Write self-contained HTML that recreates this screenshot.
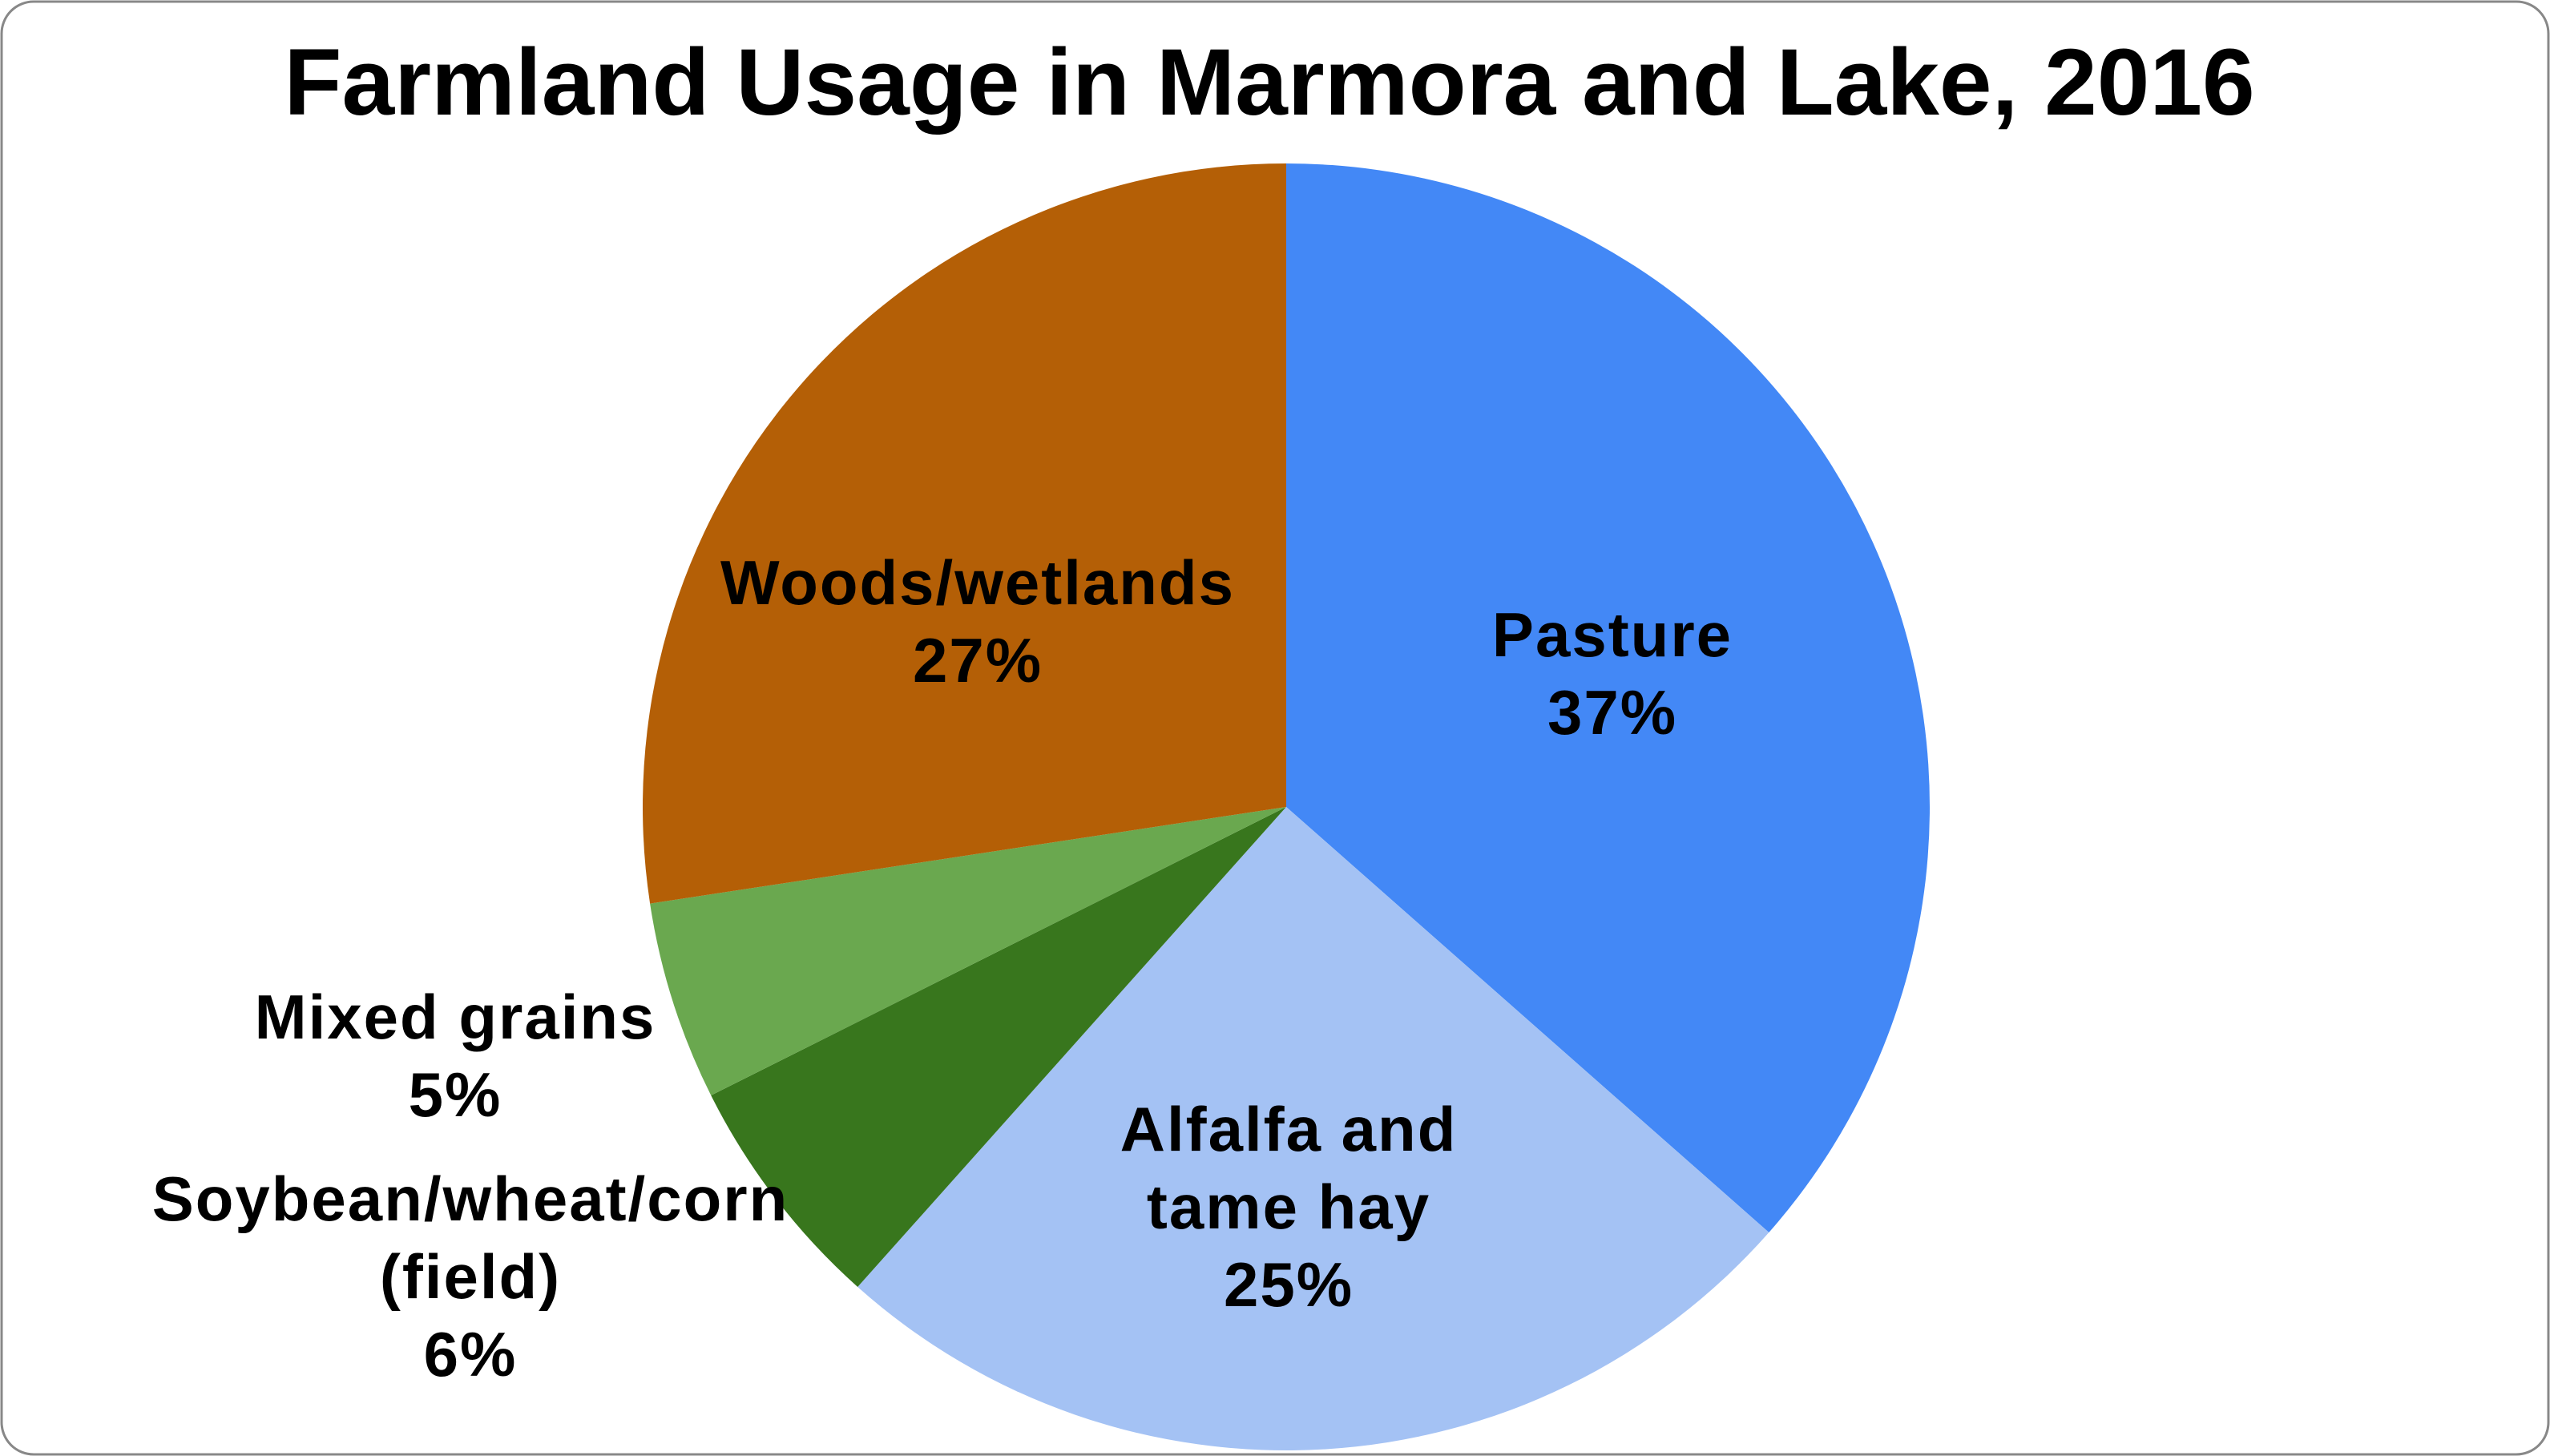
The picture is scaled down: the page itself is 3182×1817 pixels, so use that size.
<!DOCTYPE html>
<html><head><meta charset="utf-8"><style>
html,body{margin:0;padding:0;background:#fff}
svg{display:block}
text{font-family:"Liberation Sans",Arial,sans-serif;font-weight:bold;fill:#000}
</style></head><body>
<svg width="3182" height="1817" viewBox="0 0 3182 1817">
<rect x="2" y="2" width="3178" height="1813" rx="40" fill="#fff" stroke="#888" stroke-width="3"/>
<text x="1584" y="143" font-size="118" text-anchor="middle">Farmland Usage in Marmora and Lake, 2016</text>
<g id="slices"></g>
<g id="labels"></g>
</svg>
<script>
const categories = ["Pasture","Alfalfa and tame hay","Soybean/wheat/corn (field)","Mixed grains","Woods/wetlands"];
const values = [36.5,25.1,6.0,5.0,27.4];
const colors = ["#4388f6","#a4c2f4","#38761d","#6aa84f","#b45f06"];
const labelLines = [["Pasture","37%"],["Alfalfa and","tame hay","25%"],["Soybean/wheat/corn","(field)","6%"],["Mixed grains","5%"],["Woods/wetlands","27%"]];
const labelPos = [[2012,792],[1608,1409],[587,1496],[568,1269],[1220,727]];
const cx=1605, cy=1007, r=803;
const NS="http://www.w3.org/2000/svg";
const total=values.reduce((a,b)=>a+b,0);
let acc=0;
const gs=document.getElementById('slices'), gl=document.getElementById('labels');
function pt(f){const a=f*2*Math.PI;return [cx+r*Math.sin(a), cy-r*Math.cos(a)];}
values.forEach((v,i)=>{
  const f0=acc/total, f1=(acc+v)/total; acc+=v;
  const [x0,y0]=pt(f0),[x1,y1]=pt(f1);
  const p=document.createElementNS(NS,'path');
  p.setAttribute('d',`M${cx},${cy} L${x0},${y0} A${r},${r} 0 ${f1-f0>0.5?1:0} 1 ${x1},${y1} Z`);
  p.setAttribute('fill',colors[i]);
  
  
  gs.appendChild(p);
  labelLines[i].forEach((ln,j)=>{
    const t=document.createElementNS(NS,'text');
    t.setAttribute('x',labelPos[i][0]);
    t.setAttribute('y',labelPos[i][1]+j*97);
    t.setAttribute('font-size','78');
    t.setAttribute('letter-spacing','2');
    t.setAttribute('text-anchor','middle');
    t.setAttribute('dominant-baseline','central');
    t.textContent=ln;
    
    
    gl.appendChild(t);
  });
});
</script>
</body></html>
